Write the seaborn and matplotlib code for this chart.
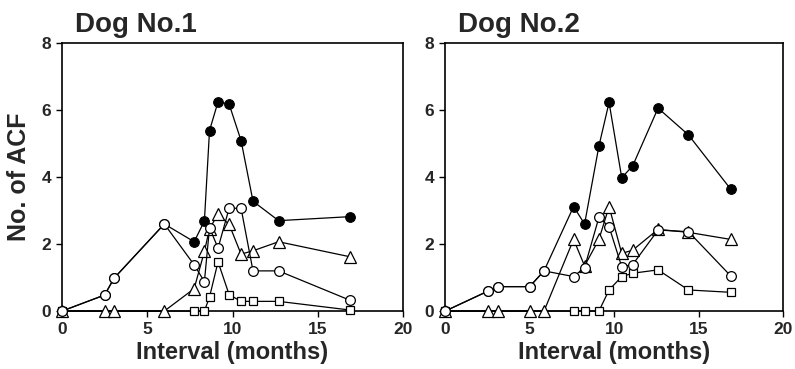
import numpy as np
import seaborn as sns
import matplotlib.pyplot as plt

# Dog No.1
x1 = [0, 2.5, 3.05, 6.0, 7.75, 8.35, 8.65, 9.15, 9.8, 10.5, 11.2, 12.7, 16.9]
total1 = [0, 0.48, 0.98, 2.6, 2.07, 2.69, 5.39, 6.25, 6.18, 5.09, 3.28, 2.7, 2.82]
open1 = [0, 0.48, 0.98, 2.6, 1.38, 0.88, 2.49, 1.88, 3.07, 3.07, 1.2, 1.2, 0.32]
tri1 = [0, 0, 0, 0, 0.67, 1.78, 2.46, 2.89, 2.59, 1.7, 1.8, 2.07, 1.62]
sq_x1 = [0, 7.75, 8.35, 8.65, 9.15, 9.8, 10.5, 11.2, 12.7, 16.9]
sq1 = [0, 0, 0, 0.42, 1.47, 0.49, 0.29, 0.29, 0.29, 0.03]

# Dog No.2
x2 = [0, 2.55, 3.1, 5.0, 5.85, 7.6, 8.25, 9.1, 9.7, 10.45, 11.1, 12.6, 14.4, 16.9]
total2 = [0, 0.6, 0.73, 0.73, 1.2, 3.12, 2.6, 4.93, 6.23, 3.98, 4.34, 6.06, 5.26, 3.64]
open2 = [0, 0.6, 0.73, 0.73, 1.2, 1.03, 1.3, 2.8, 2.52, 1.32, 1.39, 2.42, 2.37, 1.05]
tri2 = [0, 0, 0, 0, 0, 2.14, 1.35, 2.14, 3.12, 1.72, 1.82, 2.44, 2.35, 2.14]
sq_x2 = [0, 7.6, 8.25, 9.1, 9.7, 10.45, 11.1, 12.6, 14.4, 16.9]
sq2 = [0, 0, 0, 0, 0.63, 1.03, 1.13, 1.23, 0.63, 0.56]

titles = ["Dog No.1", "Dog No.2"]
xticks = [0, 5, 10, 15, 20]
yticks = [0, 2, 4, 6, 8]

sns.set_style("ticks")
plt.rcParams['font.family'] = ['Liberation Sans', 'DejaVu Sans']

fig = plt.figure(figsize=(7.95, 3.69), dpi=100)
ax1 = fig.add_axes([0.078, 0.157, 0.429, 0.726])
ax2 = fig.add_axes([0.560, 0.157, 0.425, 0.726])

panels = [
    (ax1, x1, total1, open1, tri1, sq_x1, sq1),
    (ax2, x2, total2, open2, tri2, sq_x2, sq2),
]

lw = 0.9
for i, (ax, x, tot, op, tr, sqx, sq) in enumerate(panels):
    sns.lineplot(x=x, y=tot, ax=ax, color='black', lw=lw, marker='o',
                 markersize=7, markerfacecolor='black', markeredgecolor='black',
                 estimator=None, sort=False, clip_on=False, zorder=3)
    sns.lineplot(x=sqx, y=sq, ax=ax, color='black', lw=lw, marker='s',
                 markersize=6.3, markerfacecolor='white', markeredgecolor='black',
                 markeredgewidth=0.9, estimator=None, sort=False, clip_on=False, zorder=4)
    sns.lineplot(x=x, y=tr, ax=ax, color='black', lw=lw, marker='^',
                 markersize=8.5, markerfacecolor='white', markeredgecolor='black',
                 markeredgewidth=0.9, estimator=None, sort=False, clip_on=False, zorder=5)
    sns.lineplot(x=x, y=op, ax=ax, color='black', lw=lw, marker='o',
                 markersize=7, markerfacecolor='white', markeredgecolor='black',
                 markeredgewidth=0.9, estimator=None, sort=False, clip_on=False, zorder=6)

    ax.set_xlim(0, 20)
    ax.set_ylim(0, 8)
    ax.set_xticks(xticks)
    ax.set_yticks(yticks)
    ax.set_xticklabels([str(t) for t in xticks], fontsize=12.5, fontweight='bold')
    ax.set_yticklabels([str(t) for t in yticks], fontsize=12.5, fontweight='bold')
    ax.tick_params(direction='out', length=4, width=1, pad=4, color='black')
    for s in ax.spines.values():
        s.set_visible(True)
        s.set_linewidth(1.2)
        s.set_color('black')
    ax.set_xlabel("Interval (months)", fontsize=17, fontweight='bold', labelpad=3)
    ax.set_ylabel("")
    ax.text(0.038, 1.041, titles[i], transform=ax.transAxes, fontsize=20,
            fontweight='bold', va='baseline', ha='left')

ax1.set_ylabel("No. of ACF", fontsize=18, fontweight='bold', labelpad=7)

fig.savefig("out.png", dpi=100)
